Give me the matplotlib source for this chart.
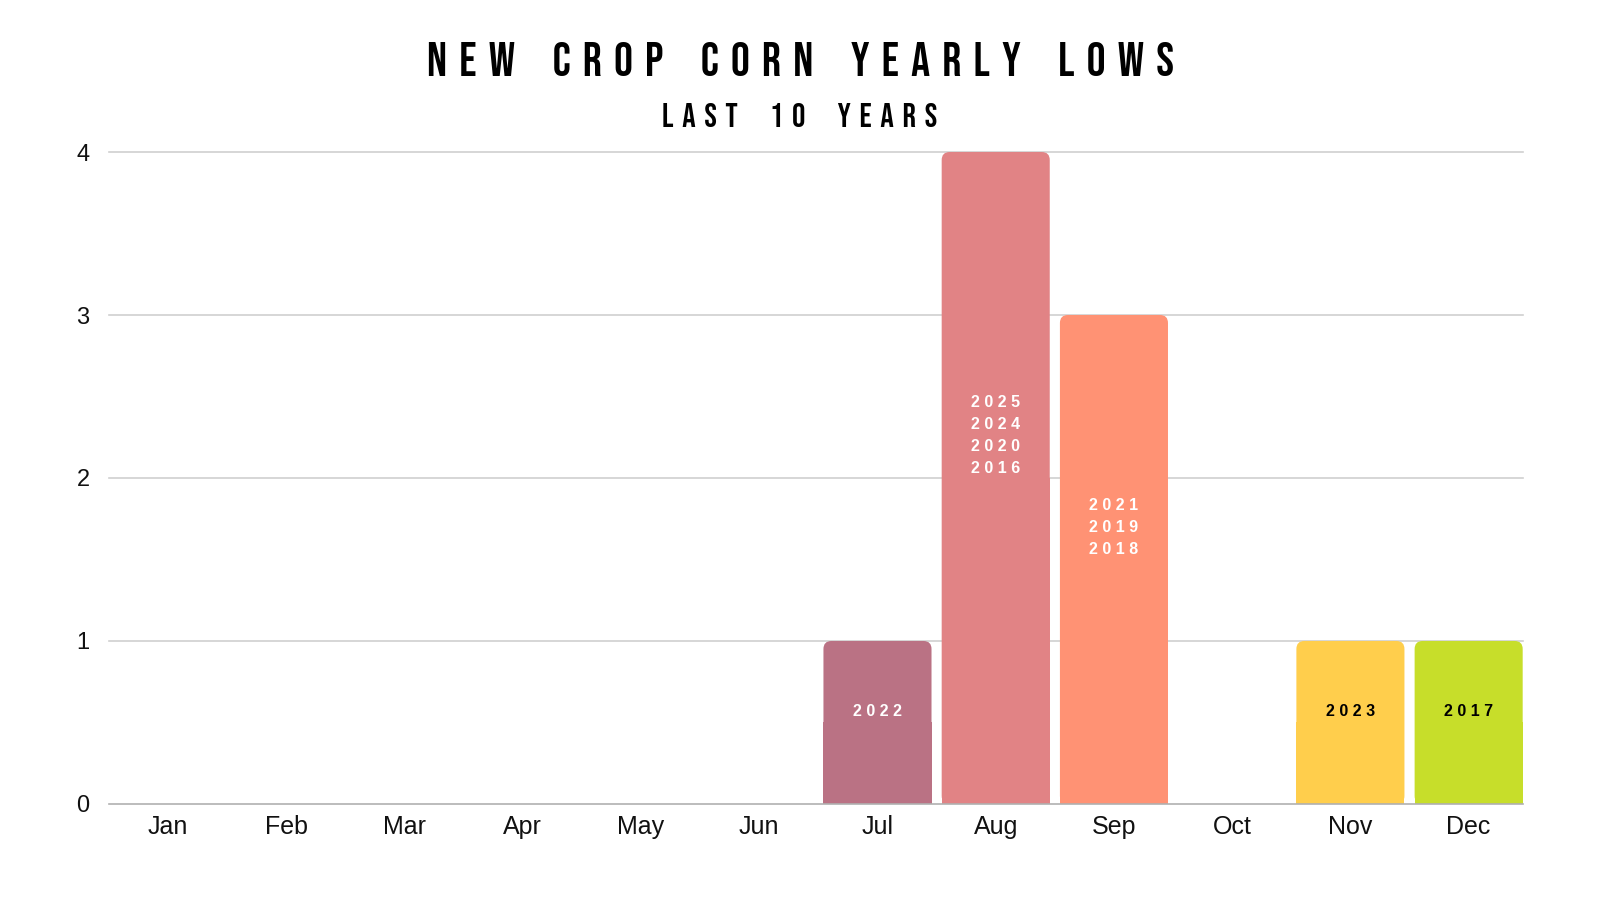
import matplotlib
matplotlib.use("Agg")
import matplotlib.pyplot as plt
from matplotlib.patches import FancyBboxPatch, Rectangle

months = ["Jan", "Feb", "Mar", "Apr", "May", "Jun",
          "Jul", "Aug", "Sep", "Oct", "Nov", "Dec"]
counts = [0, 0, 0, 0, 0, 0, 1, 4, 3, 0, 1, 1]
years = ["", "", "", "", "", "", "2022", "2025\n2024\n2020\n2016",
         "2021\n2019\n2018", "", "2023", "2017"]
colors = ["#BA7284"] * 7 + ["#E18385", "#FF9274", "#FFFFFF", "#FFCE4C", "#C7DE2A"]
text_colors = ["white"] * 10 + ["black", "black"]

TITLE = "NEW CROP CORN YEARLY LOWS"
SUBTITLE = "LAST 10 YEARS"
TITLE_FONT = ["Bebas Neue", "Oswald", "DejaVu Sans"]


def spaced(s, gap=" \u200a", word_gap="     "):
    # fake letter spacing (space + hair space between letters)
    return word_gap.join(gap.join(w) for w in s.split(" "))


plt.rcParams['font.family'] = ['Liberation Sans', 'DejaVu Sans']

fig = plt.figure(figsize=(16, 9), dpi=100)
ax = fig.add_axes([0.0681, 0.1067, 0.8838, 0.7244])

x = range(len(months))
bars = ax.bar(x, counts, width=0.914, color=colors)

# swap plain rectangles for rounded-top ones
for b, c in zip(bars, colors):
    b.set_visible(False)
    h = b.get_height()
    if h <= 0:
        continue
    bx, bw = b.get_x(), b.get_width()
    ax.add_patch(FancyBboxPatch((bx, 0), bw, h,
                                boxstyle="round,pad=0,rounding_size=0.068",
                                mutation_aspect=0.72, fc=c, ec="none", zorder=3))
    ax.add_patch(Rectangle((bx, 0), bw, h / 2, fc=c, ec="none", zorder=3))

for i, (h, lab) in enumerate(zip(counts, years)):
    if h > 0:
        ax.text(i, h * 0.565, "\n".join(" ".join(line) for line in lab.split("\n")),
                ha="center", va="center", fontsize=11.5, fontweight="bold",
                color=text_colors[i], linespacing=1.6, zorder=4)

ax.set_xlim(-0.5, 11.46)
ax.set_ylim(0, 4)
ax.set_yticks([0, 1, 2, 3, 4])
ax.set_xticks(list(x))
ax.set_xticklabels(months)
ax.tick_params(axis="both", length=0, labelsize=17, colors="#111111")
ax.tick_params(axis="x", labelsize=18, pad=8)
ax.tick_params(axis="y", pad=14)

for v in [1, 2, 3, 4]:
    ax.axhline(v, color="#D0D0D0", lw=1.2, zorder=1, clip_on=False)
ax.axhline(0, color="#B0B0B0", lw=1.2, zorder=5, clip_on=False)

for sp in ax.spines.values():
    sp.set_visible(False)

fig.text(0.5, 0.9156, spaced(TITLE), ha="center", va="baseline", fontsize=34,
         family=TITLE_FONT)
fig.text(0.5, 0.8589, spaced(SUBTITLE, word_gap="      "), ha="center",
         va="baseline", fontsize=24, family=TITLE_FONT)

fig.savefig("out.png", dpi=100, facecolor="white")
